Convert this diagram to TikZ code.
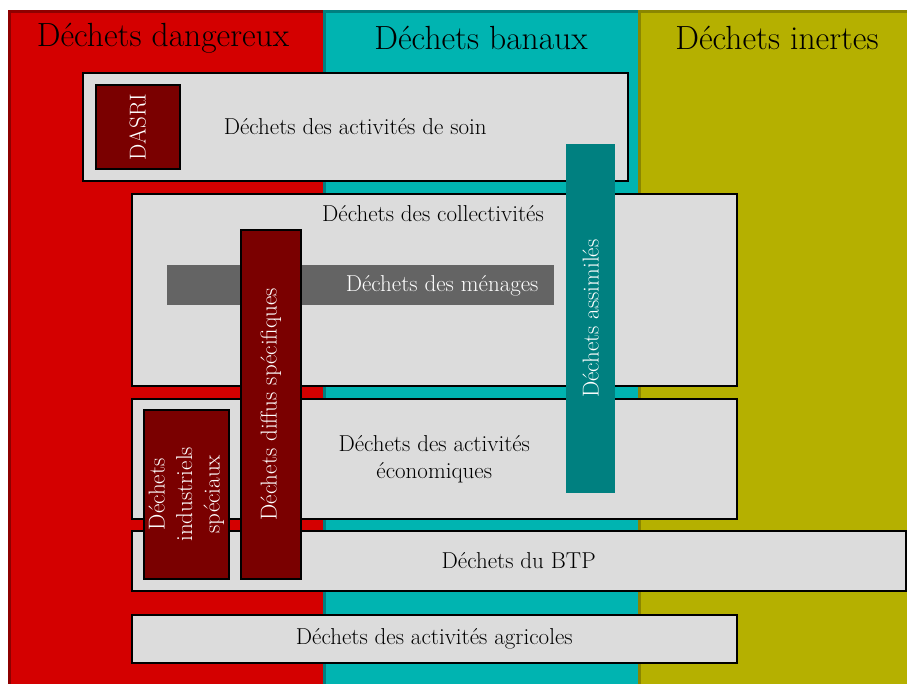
\documentclass[tikz,border=0pt]{standalone}
\usepackage{fontspec}
\definecolor{colred}{HTML}{D40000}
\definecolor{colredd}{HTML}{8E0000}
\definecolor{colteal}{HTML}{00B4B1}
\definecolor{coltealdk}{HTML}{008080}
\definecolor{cololive}{HTML}{B5B000}
\definecolor{cololivedk}{HTML}{8A8600}
\definecolor{boxgray}{HTML}{DCDCDC}
\definecolor{darkred}{HTML}{7A0000}
\definecolor{mengray}{HTML}{646464}
\definecolor{assim}{HTML}{008080}
\begin{document}
\begin{tikzpicture}[x=1pt,y=-1pt,
  column/.style={line width=3pt},
  title/.style={font=\fontsize{33.5}{38}\selectfont},
  graybox/.style={draw=black, fill=boxgray, line width=1.5pt, inner sep=0pt, anchor=north west},
  redbar/.style={draw=black, fill=darkred, line width=1.5pt, inner sep=0pt, anchor=north west},
  lbl/.style={font=\fontsize{23}{25}\selectfont, align=center},
  wlbl/.style={font=\fontsize{23}{25}\selectfont, text=white, align=center}]
\useasboundingbox (0,0) rectangle (907,683);
\fill[white] (0,0) rectangle (907,683);
% columns
\filldraw[column, fill=colred, draw=colredd] (9.5,11.5) rectangle (330,700);
\filldraw[column, fill=colteal, draw=coltealdk] (324.5,11.5) rectangle (650,700);
\filldraw[column, fill=cololive, draw=cololivedk] (639.5,11.5) rectangle (920,700);
\node[title] (tdang) at (163,38) {Déchets dangereux};
\node[title] (tban) at (481,38) {Déchets banaux};
\node[title] (tinert) at (777,38) {Déchets inertes};
% soin
\node[graybox, minimum width=545pt, minimum height=108pt] (soin) at (82,72) {};
\node[lbl] (tsoin) at (soin.center) {Déchets des activités de soin};
\node[redbar, minimum width=84pt, minimum height=84pt] (dasri) at (95,84) {};
\node[wlbl, rotate=90] (tdasri) at (dasri.center) {DASRI};
% collectivites
\node[graybox, minimum width=605pt, minimum height=192pt] (coll) at (131,193) {};
\node[lbl] (tcoll) at (433,214) {Déchets des collectivités};
\node[fill=mengray, inner sep=0pt, minimum width=387pt, minimum height=40pt, anchor=north west] (men) at (167,265) {};
\node[wlbl, anchor=east] (tmen) at (542,286) {Déchets des ménages};
% economiques
\node[graybox, minimum width=605pt, minimum height=120pt] (eco) at (131,398) {};
\node[lbl, font=\fontsize{23}{27}\selectfont] (teco) at (eco.center) {Déchets des activités\\économiques};
% BTP
\node[graybox, minimum width=774pt, minimum height=60pt] (btp) at (131,530) {};
\node[lbl] (tbtp) at (btp.center) {Déchets du BTP};
% agricoles
\node[graybox, minimum width=605pt, minimum height=48pt] (agri) at (131,614) {};
\node[lbl] (tagri) at (agri.center) {Déchets des activités agricoles};
% diffus
\node[redbar, minimum width=60pt, minimum height=349pt] (diffus) at (240,229) {};
\node[wlbl, rotate=90] (tdiffus) at (diffus.center) {Déchets diffus spécifiques};
% industriels
\node[redbar, minimum width=85pt, minimum height=169pt] (indus) at (143,409) {};
\node[wlbl, rotate=90, font=\fontsize{23}{27.5}\selectfont] (tindus) at (indus.center) {Déchets\\industriels\\spéciaux};
% assimiles
\node[fill=assim, inner sep=0pt, minimum width=49pt, minimum height=349pt, anchor=north west] (assimb) at (566,144) {};
\node[wlbl, rotate=90] (tassim) at (assimb.center) {Déchets assimilés};
\end{tikzpicture}
\end{document}
